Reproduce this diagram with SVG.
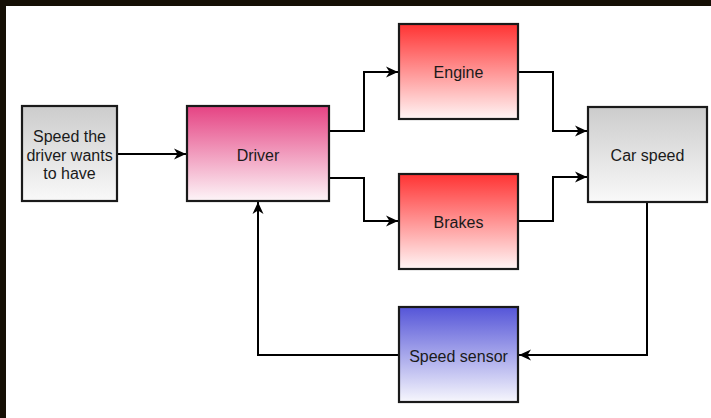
<svg xmlns="http://www.w3.org/2000/svg" width="711" height="418" viewBox="0 0 711 418">
<style>
.box{stroke:#1a1a1a;stroke-width:2.2}
.lbl{font-family:"Liberation Sans",Arial,sans-serif;font-size:16px;fill:#1a1a1a;text-anchor:middle}
.edge{fill:none;stroke:#000;stroke-width:2}
</style>
<defs>
<linearGradient id="gGray" x1="0" y1="0" x2="0" y2="1"><stop offset="0" stop-color="#cccccc"/><stop offset="1" stop-color="#f9f9f9"/></linearGradient>
<linearGradient id="gPink" x1="0" y1="0" x2="0" y2="1"><stop offset="0" stop-color="#e54383"/><stop offset="1" stop-color="#fdf5f8"/></linearGradient>
<linearGradient id="gRed" x1="0" y1="0" x2="0" y2="1"><stop offset="0" stop-color="#ff3333"/><stop offset="1" stop-color="#fff5f5"/></linearGradient>
<linearGradient id="gBlue" x1="0" y1="0" x2="0" y2="1"><stop offset="0" stop-color="#5555d8"/><stop offset="1" stop-color="#f7f7fd"/></linearGradient>
<marker id="arr" markerUnits="userSpaceOnUse" markerWidth="14" markerHeight="14" refX="12" refY="6.5" orient="auto">
<path d="M0,1 L12,6.5 L0,12 L3.5,6.5 Z" fill="#000"/>
</marker>
</defs>
<rect x="0" y="0" width="711" height="418" fill="#150f05"/>
<rect x="6" y="6" width="705" height="412" fill="#ffffff"/>
<g id="connectors">
<path class="edge" d="M117,154 H186" marker-end="url(#arr)"/>
<path class="edge" d="M329,131 H364 V72 H398" marker-end="url(#arr)"/>
<path class="edge" d="M329,178 H364 V221 H398" marker-end="url(#arr)"/>
<path class="edge" d="M518,72 H553 V131 H587" marker-end="url(#arr)"/>
<path class="edge" d="M518,221 H553 V177 H587" marker-end="url(#arr)"/>
<path class="edge" d="M647,202 V355 H519" marker-end="url(#arr)"/>
<path class="edge" d="M399,355 H258 V202" marker-end="url(#arr)"/>
</g>
<g id="desired">
<rect class="box" x="22" y="106" width="95" height="95" fill="url(#gGray)"/>
<text class="lbl" x="69.5" y="142">Speed the</text>
<text class="lbl" x="69.5" y="161">driver wants</text>
<text class="lbl" x="69.5" y="179">to have</text>
</g>
<g id="driver">
<rect class="box" x="187" y="106" width="142" height="95" fill="url(#gPink)"/>
<text class="lbl" x="258" y="160.5">Driver</text>
</g>
<g id="engine">
<rect class="box" x="399" y="24" width="119" height="95" fill="url(#gRed)"/>
<text class="lbl" x="458.5" y="78">Engine</text>
</g>
<g id="brakes">
<rect class="box" x="399" y="174" width="119" height="95" fill="url(#gRed)"/>
<text class="lbl" x="458.5" y="228">Brakes</text>
</g>
<g id="carspeed">
<rect class="box" x="588" y="107" width="119" height="95" fill="url(#gGray)"/>
<text class="lbl" x="647.5" y="161">Car speed</text>
</g>
<g id="sensor">
<rect class="box" x="399" y="307" width="119" height="95" fill="url(#gBlue)"/>
<text class="lbl" x="458.5" y="362">Speed sensor</text>
</g>
</svg>
